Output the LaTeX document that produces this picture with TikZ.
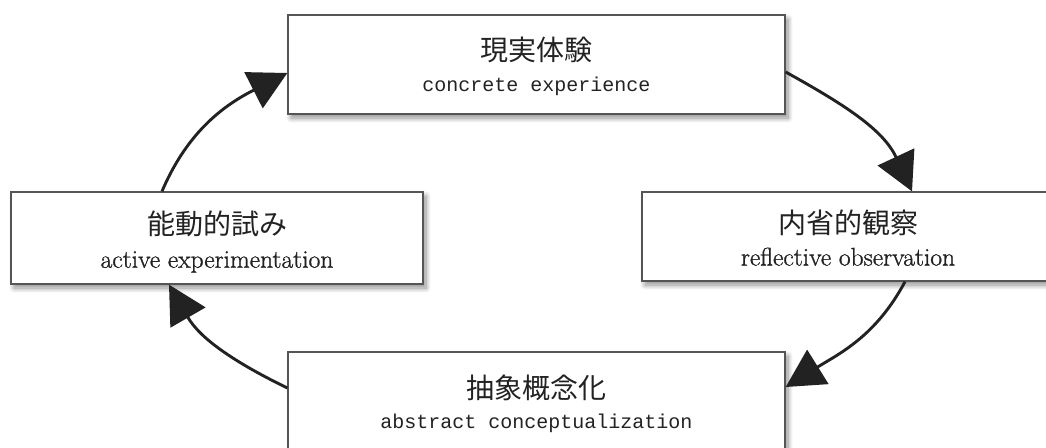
\documentclass[tikz,border=0pt]{standalone}
\usepackage{fontspec}
\newfontfamily\jp{Noto Sans CJK JP}
\newfontfamily\serifb{Latin Modern Roman}[FakeBold=1]
\setmonofont{Liberation Mono}
\usetikzlibrary{arrows.meta,shadows.blur}
\definecolor{ink}{HTML}{222222}
\definecolor{frame}{HTML}{555555}
\tikzset{
  box/.style={rectangle, draw=frame, line width=1.3pt, fill=white, inner sep=0pt,
    blur shadow={shadow xshift=3pt, shadow yshift=-4pt, shadow blur radius=5pt, shadow blur steps=10, shadow opacity=45}},
  jpt/.style={font=\jp\fontsize{28}{30}\selectfont, text=ink, inner sep=0pt},
  ent/.style={font=\serifb\fontsize{25.5}{28}\selectfont, text=ink, inner sep=0pt},
  ttt/.style={font=\ttfamily\fontsize{20}{22}\selectfont, text=ink, inner sep=0pt},
  arr/.style={draw=ink, line width=2.9pt, -{Triangle[length=38pt,width=40pt]}}
}
\begin{document}
\begin{tikzpicture}[x=1pt,y=1pt]
\useasboundingbox (0,0) rectangle (1046,-447);
% boxes
\node[box, minimum width=497pt, minimum height=99pt] (ce) at (536.5,-64.5) {};
\node[box, minimum width=412pt, minimum height=89pt] (ro) at (848,-236.5) {};
\node[box, minimum width=497pt, minimum height=98pt] (ac) at (536.5,-401) {};
\node[box, minimum width=412pt, minimum height=92pt] (ae) at (217,-238) {};
% texts
\node[jpt] (ceJ) at (536.5,-50.3) {現実体験};
\node[ttt] (ceE) at (536.5,-86.7) {concrete experience};
\node[jpt] (roJ) at (848,-223.3) {内省的観察};
\node[ent] (roE) at (848,-256.7) {reflective observation};
\node[jpt] (acJ) at (536.5,-387.5) {抽象概念化};
\node[ttt] (acE) at (536.5,-423.3) {abstract conceptualization};
\node[jpt] (aeJ) at (217,-224) {能動的試み};
\node[ent] (aeE) at (217,-262) {active experimentation};
% arrows
\draw[arr] ([yshift=-7.5pt]ce.east) to[out=-29,in=115] ([xshift=64pt]ro.north);
\draw[arr] ([xshift=57pt]ro.south) to[out=-118,in=32] ([yshift=14pt]ac.east);
\draw[arr] ([yshift=13pt]ac.west) to[out=154,in=-60] ([xshift=-48pt]ae.south);
\draw[arr] ([xshift=-55pt]ae.north) to[out=67,in=-153] ([yshift=-8.5pt]ce.west);
\end{tikzpicture}
\end{document}
